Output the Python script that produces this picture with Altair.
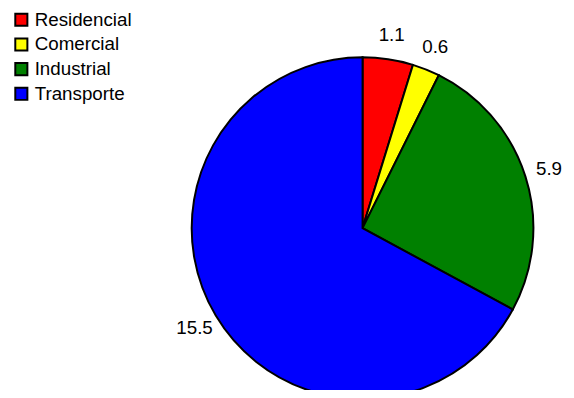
import altair as alt
import pandas as pd

categories = ["Residencial", "Comercial", "Industrial", "Transporte"]
values = [1.1, 0.6, 5.9, 15.5]
labels = ["1.1", "0.6", "5.9", "15.5"]
colors = ["#FF0000", "#FFFF00", "#008000", "#0000FF"]

df = pd.DataFrame({"cat": categories, "val": values, "lab": labels,
                   "idx": list(range(len(categories)))})

color = alt.Color("cat:N", scale=alt.Scale(domain=categories, range=colors),
                  sort=categories,
                  legend=alt.Legend(title=None, orient="none", legendX=4, legendY=0,
                                    symbolType="square", symbolSize=150,
                                    symbolStrokeColor="black", symbolStrokeWidth=2,
                                    symbolOpacity=1, labelLimit=300,
                                    labelFont="Liberation Sans", labelFontSize=19,
                                    labelColor="black", rowPadding=4, labelOffset=4))

base = alt.Chart(df).encode(
    theta=alt.Theta("val:Q", stack=True),
    order=alt.Order("idx:Q"),
    x=alt.value(359), y=alt.value(220.5),
)

pie = base.mark_arc(outerRadius=173, stroke="black", strokeWidth=2, opacity=1).encode(color=color)
text = base.mark_text(radius=198, font="Liberation Sans", fontSize=19, color="black").encode(
    text="lab:N")

chart = alt.layer(pie, text).properties(
    width=565, height=382, padding=0, autosize=alt.AutoSizeParams(type="none")
).configure_view(stroke=None)

chart.save("out.html", embed_options={"renderer": "svg", "actions": False})
